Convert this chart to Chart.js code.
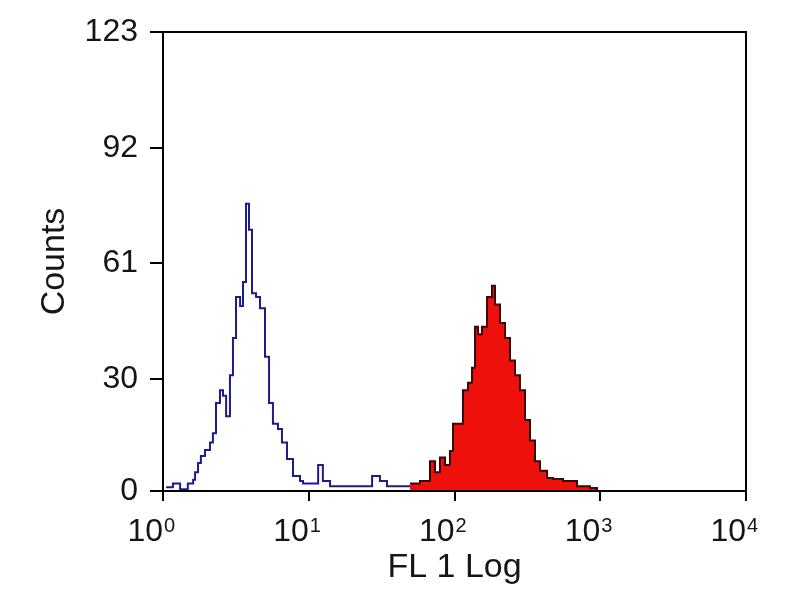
<!DOCTYPE html>
<html>
<head>
<meta charset="utf-8">
<script src="https://cdn.jsdelivr.net/npm/chart.js@4.4.1/dist/chart.umd.min.js"></script>
<style>
  html, body { margin: 0; padding: 0; background: #fff; }
</style>
</head>
<body>
<canvas id="chart" width="800" height="600"></canvas>
<script>
// axis ticks
const xTickValues = [1, 10, 100, 1000, 10000];
const xTickExponents = ['0', '1', '2', '3', '4'];
const yTickValues = [0, 30, 61, 92, 123];

// unstained control (blue outline), left edge of each channel and its count
const blueFL = [1.05, 1.17, 1.31, 1.48, 1.61, 1.66, 1.74, 1.82, 1.94, 2.10,
    2.20, 2.31, 2.46, 2.58, 2.71, 2.88, 3.02, 3.17, 3.38, 3.54,
    3.71, 3.89, 4.08, 4.35, 4.63, 5.01, 5.34, 5.68, 6.15, 6.55,
    7.09, 7.80, 8.71, 9.13, 9.42, 11.6, 12.5, 14.0, 14.7, 27.2,
    30.8, 34.4, 51.9, 62.7];
const blueCounts = [1, 2, 0.5, 2, 3, 5, 7.5, 9.4, 11, 13,
    15.5, 23.6, 27, 25.5, 20, 31, 41, 52, 49.6, 56,
    77, 70, 53, 52, 49, 36, 23.6, 18, 16.6, 13,
    8.6, 4, 2.7, 2, 2, 7, 2.7, 1.3, 1.3, 4,
    2.7, 1.3, 1, 0];

// stained sample (red filled)
const redFL = [49.5, 58.0, 67.9, 73.5, 79.5, 86.1, 93.1, 97.7, 114.3, 123.8,
    131.9, 138.3, 144.9, 154.4, 167.1, 180.8, 189.6, 205.2, 222.1, 240.3,
    260.0, 281.3, 304.6, 329.6, 356.6, 386.0, 431.5, 474.4, 555, 692.8,
    850.8, 950.4];
const redCounts = [2, 2.7, 8, 5, 9, 7, 10.7, 18, 27, 29,
    33, 44, 42, 44, 52, 55, 50, 45, 41, 35,
    31, 27, 19, 13.5, 8, 5.4, 3.5, 3.2, 2.7, 1.3,
    0.8, 0];

const fontFamily = '"Liberation Sans", Arial, Helvetica, sans-serif';
const textColor = '#151515';

function toPoints(xs, ys) {
    return xs.map((x, i) => ({ x: x, y: ys[i] }));
}

// closed box around the plot area + "10 with exponent" labels under the x ticks
const framePlugin = {
    id: 'frame',
    afterDatasetsDraw(chart) {
        const { ctx, chartArea } = chart;
        ctx.save();
        ctx.strokeStyle = '#000';
        ctx.lineWidth = 2;
        ctx.strokeRect(chartArea.left, chartArea.top,
            chartArea.right - chartArea.left, chartArea.bottom - chartArea.top);
        ctx.restore();
    },
    afterDraw(chart) {
        const { ctx, chartArea } = chart;
        const xScale = chart.scales.x;
        const base = chartArea.bottom + 50;
        ctx.save();
        ctx.fillStyle = textColor;
        ctx.textBaseline = 'alphabetic';
        xTickValues.forEach((v, i) => {
            const px = xScale.getPixelForValue(v);
            ctx.font = '32px ' + fontFamily;
            ctx.textAlign = 'right';
            ctx.fillText('10', px, base);
            ctx.font = '20px ' + fontFamily;
            ctx.textAlign = 'left';
            ctx.fillText(xTickExponents[i], px + 1, base - 9);
        });
        ctx.restore();
    }
};

const ctx = document.getElementById('chart').getContext('2d');
new Chart(ctx, {
    type: 'line',
    data: {
        datasets: [
            {
                label: 'Stained',
                data: toPoints(redFL, redCounts),
                stepped: 'before',
                borderColor: '#3a0606',
                borderWidth: 2,
                backgroundColor: 'rgb(238, 16, 10)',
                fill: 'origin',
                pointRadius: 0
            },
            {
                label: 'Control',
                data: toPoints(blueFL, blueCounts),
                stepped: 'before',
                borderColor: '#1c1c8c',
                borderWidth: 2,
                fill: false,
                pointRadius: 0
            }
        ]
    },
    options: {
        responsive: false,
        animation: false,
        layout: { padding: { top: 32, right: 54, left: 0, bottom: 0 } },
        plugins: {
            legend: { display: false },
            tooltip: { enabled: false }
        },
        scales: {
            x: {
                type: 'logarithmic',
                min: 1,
                max: 10000,
                afterBuildTicks: function(scale) {
                    scale.ticks = xTickValues.map(v => ({ value: v }));
                },
                afterFit: function(scale) {
                    scale.height = 109;
                    scale.paddingLeft = 0;
                    scale.paddingRight = 0;
                },
                grid: { drawOnChartArea: false, drawTicks: true, tickLength: 10, color: '#000', lineWidth: 2 },
                border: { display: true, color: '#000', width: 2 },
                ticks: { display: false, autoSkip: false },
                title: {
                    display: true,
                    text: 'FL 1 Log',
                    color: textColor,
                    font: { family: fontFamily, size: 34 },
                    padding: { top: 0, bottom: 12 }
                }
            },
            y: {
                min: 0,
                max: 123,
                afterBuildTicks: function(scale) {
                    scale.ticks = yTickValues.map(v => ({ value: v }));
                },
                afterFit: function(scale) {
                    scale.width = 163;
                    scale.paddingTop = 0;
                    scale.paddingBottom = 0;
                },
                grid: { drawOnChartArea: false, drawTicks: true, tickLength: 13, color: '#000', lineWidth: 2 },
                border: { display: true, color: '#000', width: 2 },
                ticks: {
                    padding: 12,
                    color: textColor,
                    font: { family: fontFamily, size: 32 }
                },
                title: {
                    display: true,
                    text: 'Counts',
                    color: textColor,
                    font: { family: fontFamily, size: 34 },
                    padding: { top: 34, bottom: 0 }
                }
            }
        }
    },
    plugins: [framePlugin]
});
</script>
</body>
</html>
